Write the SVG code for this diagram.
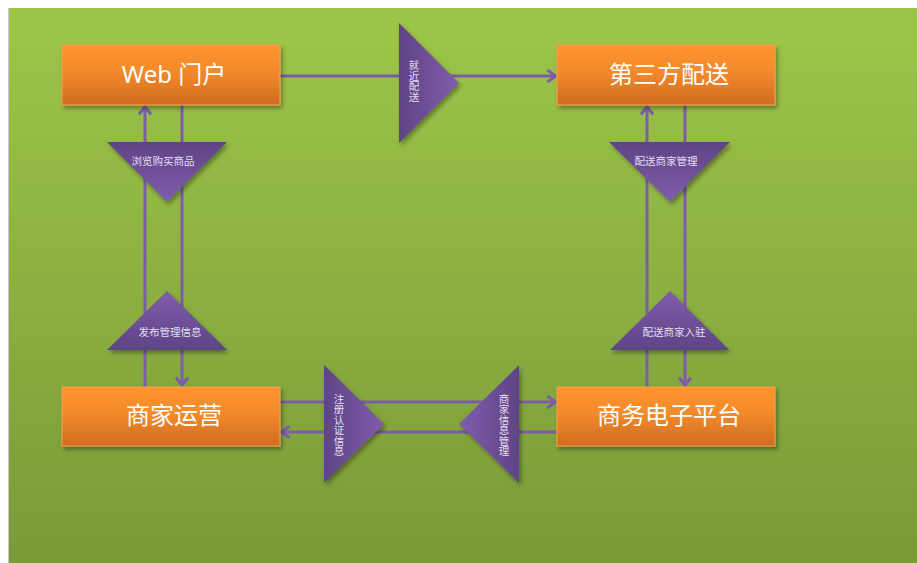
<svg xmlns="http://www.w3.org/2000/svg" width="917" height="563" viewBox="0 0 917 563">
<defs>
<linearGradient id="bg" x1="0" y1="0" x2="0" y2="1">
<stop offset="0" stop-color="#9DC649"/>
<stop offset="1" stop-color="#7A9A38"/>
</linearGradient>
<linearGradient id="box" x1="0" y1="0" x2="0" y2="1">
<stop offset="0" stop-color="#FF942E"/>
<stop offset="0.45" stop-color="#F38A2B"/>
<stop offset="1" stop-color="#CF6B20"/>
</linearGradient>
<linearGradient id="triDown" x1="0" y1="0" x2="0" y2="1">
<stop offset="0" stop-color="#5E4485"/>
<stop offset="1" stop-color="#805DAC"/>
</linearGradient>
<linearGradient id="triUp" x1="0" y1="1" x2="0" y2="0">
<stop offset="0" stop-color="#5E4485"/>
<stop offset="1" stop-color="#805DAC"/>
</linearGradient>
<linearGradient id="triRight" x1="0" y1="0" x2="1" y2="0">
<stop offset="0" stop-color="#5E4485"/>
<stop offset="1" stop-color="#805DAC"/>
</linearGradient>
<linearGradient id="triLeft" x1="1" y1="0" x2="0" y2="0">
<stop offset="0" stop-color="#5E4485"/>
<stop offset="1" stop-color="#805DAC"/>
</linearGradient>
<filter id="sh" x="-20%" y="-20%" width="140%" height="150%">
<feDropShadow dx="2" dy="3" stdDeviation="2" flood-color="#000" flood-opacity="0.35"/>
</filter>
<marker id="arr" markerUnits="userSpaceOnUse" markerWidth="14" markerHeight="16" refX="10" refY="7" orient="auto">
<path d="M1.5,1 L9.5,7 L1.5,13" fill="none" stroke="#7B5EA7" stroke-width="3" stroke-linejoin="miter"/>
</marker>
<style>
.box{fill:url(#box);stroke:#F9A24A;stroke-width:1;filter:url(#sh)}
.bt{font-family:"Noto Sans","Noto Sans CJK SC",sans-serif;font-size:24px;fill:#FFFFFF;text-anchor:middle}
.tri{filter:url(#sh)}
.tt{font-family:"Noto Sans CJK SC",sans-serif;font-size:10.5px;fill:#E6DEF0;text-anchor:middle}
.vt{font-family:"Noto Sans CJK SC",sans-serif;font-size:10.5px;fill:#E6DEF0;text-anchor:middle;writing-mode:vertical-rl}
.ln{fill:none;stroke:#7B5EA7;stroke-width:3}
</style>
</defs>
<rect x="8" y="8" width="909" height="555" fill="#C8C8C8"/>
<rect x="9" y="8" width="908" height="555" fill="url(#bg)"/>

<g id="connectors">
<path class="ln" d="M280,76 H556" marker-end="url(#arr)"/>
<path class="ln" d="M145,387 V106" marker-end="url(#arr)"/>
<path class="ln" d="M182,105 V386" marker-end="url(#arr)"/>
<path class="ln" d="M647,387 V106" marker-end="url(#arr)"/>
<path class="ln" d="M685,105 V386" marker-end="url(#arr)"/>
<path class="ln" d="M280,402 H556" marker-end="url(#arr)"/>
<path class="ln" d="M557,432 H281" marker-end="url(#arr)"/>
</g>

<g id="web">
<rect class="box" x="62" y="45" width="218" height="60"/>
<text class="bt" x="174" y="83">Web 门户</text>
</g>
<g id="delivery">
<rect class="box" x="557" y="45" width="218" height="60"/>
<text class="bt" x="669" y="83">第三方配送</text>
</g>
<g id="merchant">
<rect class="box" x="62" y="387" width="218" height="59"/>
<text class="bt" x="174" y="424">商家运营</text>
</g>
<g id="platform">
<rect class="box" x="557" y="387" width="218" height="59"/>
<text class="bt" x="669" y="424">商务电子平台</text>
</g>

<g id="label-jinjin">
<polygon class="tri" points="399,23 399,143 459,83" fill="url(#triRight)"/>
<text class="vt" x="414" y="81">就近配送</text>
</g>
<g id="label-liulan">
<polygon class="tri" points="107,142 227,142 167,202" fill="url(#triDown)"/>
<text class="tt" x="163" y="165">浏览购买商品</text>
</g>
<g id="label-fabu">
<polygon class="tri" points="167,291 227,350 107,350" fill="url(#triUp)"/>
<text class="tt" x="170" y="335.5">发布管理信息</text>
</g>
<g id="label-peisongguanli">
<polygon class="tri" points="609,142 730,142 670,202" fill="url(#triDown)"/>
<text class="tt" x="666" y="165">配送商家管理</text>
</g>
<g id="label-ruzhu">
<polygon class="tri" points="670,291 729,350 610,350" fill="url(#triUp)"/>
<text class="tt" x="674" y="335.5">配送商家入驻</text>
</g>
<g id="label-zhuce">
<polygon class="tri" points="324,365 324,483 384,424" fill="url(#triRight)"/>
<text class="vt" x="339" y="425">注册认证信息</text>
</g>
<g id="label-xinxi">
<polygon class="tri" points="519,365 519,483 459,424" fill="url(#triLeft)"/>
<text class="vt" x="504" y="425">商家信息管理</text>
</g>
</svg>
